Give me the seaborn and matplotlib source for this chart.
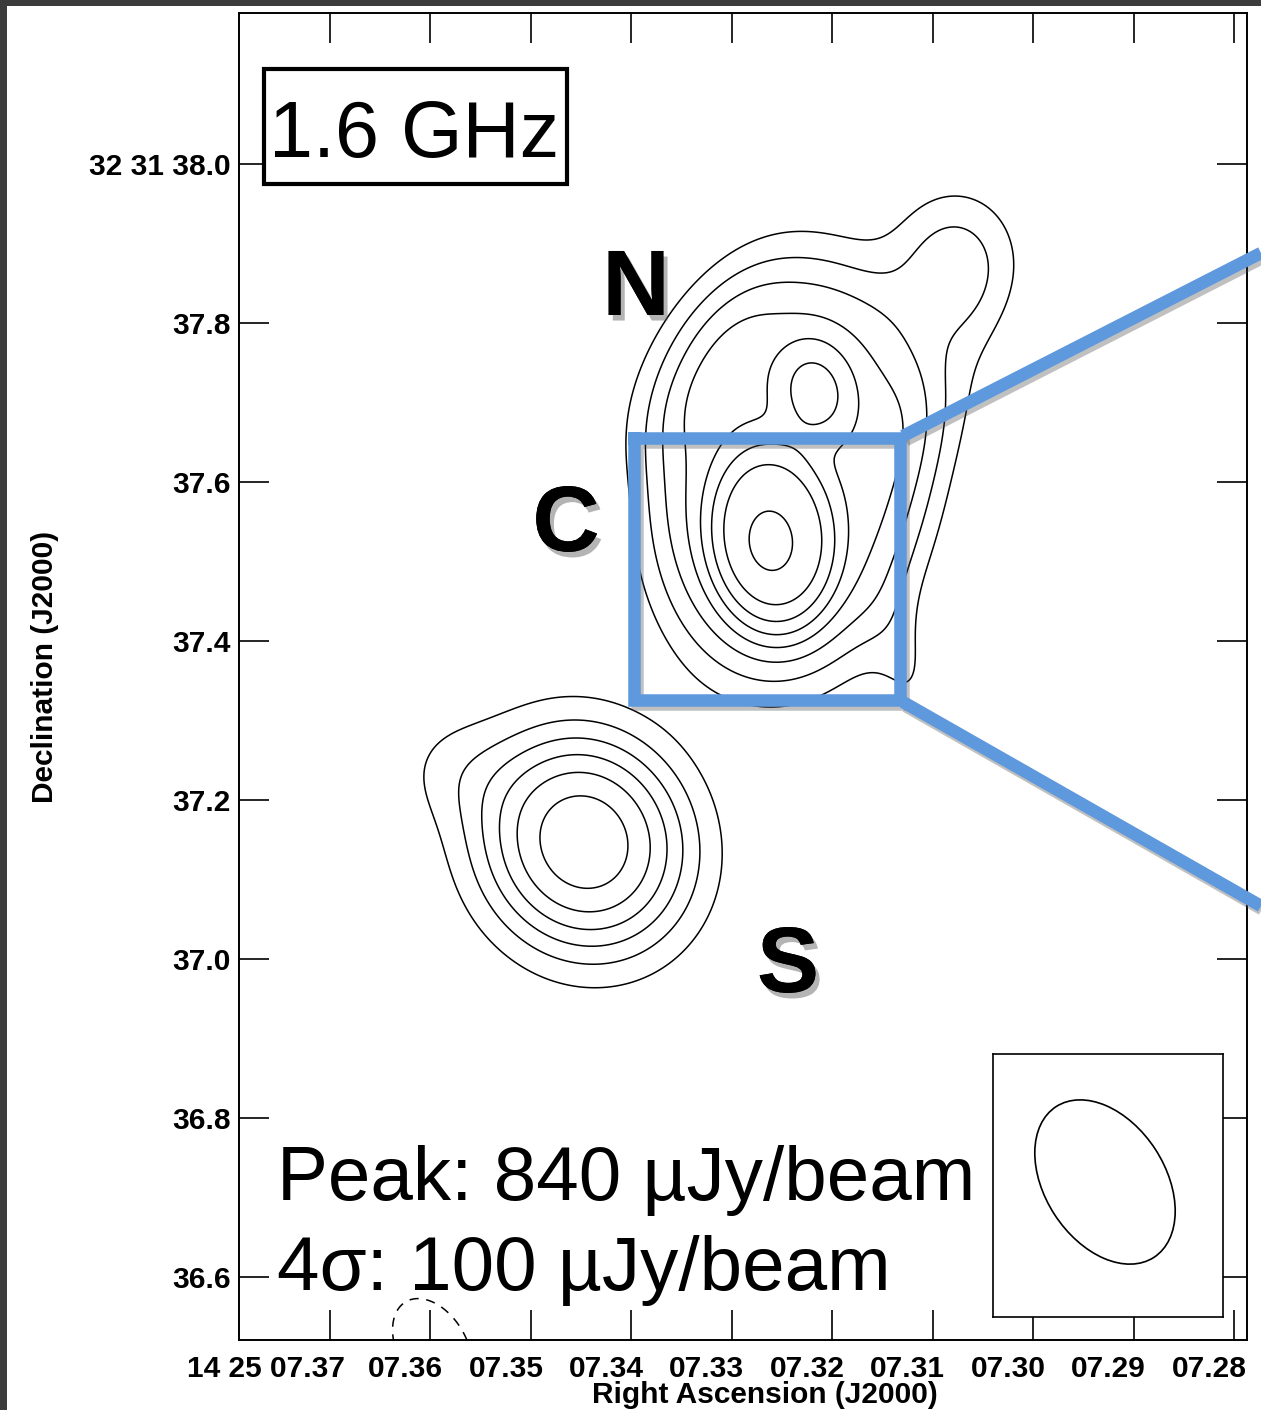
import numpy as np
import matplotlib
matplotlib.use("Agg")
import matplotlib.pyplot as plt
import seaborn as sns
from matplotlib.patches import Ellipse, Rectangle
from matplotlib.lines import Line2D
import matplotlib.patheffects as pe
from matplotlib.transforms import ScaledTranslation

# ---------------- data ----------------
# emission components: RA seconds (14h25m), Dec arcsec (+32d31m), peak uJy/beam,
# width major / minor (arcsec), position angle (deg, east of north), profile exponent
comp_ra = [7.3242, 7.3260, 7.3263, 7.3217, 7.3342, 7.3081, 7.3088, 7.3128,
           7.3447, 7.3581, 7.3598]
comp_dec = [37.615, 37.527, 37.518, 37.716, 37.753, 37.874, 37.728, 37.370,
            37.147, 37.240, 36.511]
comp_peak = [470, 330, 40, 165, 90, 250, 100, 100, 660, 90, -170]
comp_maj = [0.239, 0.103, 0.020, 0.053, 0.113, 0.065, 0.088, 0.063,
            0.112, 0.050, 0.065]
comp_min = [0.157, 0.069, 0.015, 0.040, 0.050, 0.057, 0.044, 0.031,
            0.102, 0.050, 0.042]
comp_pa = [-8, 5, 10, 10, -35, -10, -15, 10, 28, 0, 30]
comp_exp = [5.0, 4.0, 2.0, 3.0, 2.5, 2.2, 2.2, 2.0, 2.6, 2.0, 2.0]

neg_levels = [-100]
pos_levels = [100, 200, 300, 400, 500, 600, 700, 800]

ra_ticks = [7.37, 7.36, 7.35, 7.34, 7.33, 7.32, 7.31, 7.30, 7.29, 7.28]
ra_labels = ["14 25 07.37", "07.36", "07.35", "07.34", "07.33", "07.32",
             "07.31", "07.30", "07.29", "07.28"]
dec_ticks = [38.0, 37.8, 37.6, 37.4, 37.2, 37.0, 36.8, 36.6]
dec_labels = ["32 31 38.0", "37.8", "37.6", "37.4", "37.2", "37.0", "36.8", "36.6"]

beam_maj, beam_min, beam_pa = 0.226, 0.151, 33
freq_label = "1.6 GHz"
peak_text = "Peak: 840 µJy/beam"
sigma_text = "4σ: 100 µJy/beam"
comp_names = ["N", "C", "S"]

# ---------------- style ----------------
sns.set_theme(style="ticks")
plt.rcParams['font.family'] = ['Liberation Sans', 'DejaVu Sans']
plt.rcParams['text.color'] = 'black'
plt.rcParams['axes.labelcolor'] = 'black'
plt.rcParams['xtick.color'] = 'black'
plt.rcParams['ytick.color'] = 'black'

W, H = 1261, 1410
fig = plt.figure(figsize=(W / 100, H / 100), dpi=100)
fig.patch.set_facecolor("white")

def fx(px):
    return px / W

def fy(py):
    return 1 - py / H

# dark screenshot border (left / top)
fig.add_artist(Rectangle((0, 0), fx(7), 1, transform=fig.transFigure,
                         facecolor="#3c3c3c", edgecolor="none", zorder=0))
fig.add_artist(Rectangle((0, fy(6)), 1, 6 / H, transform=fig.transFigure,
                         facecolor="#3c3c3c", edgecolor="none", zorder=0))

ax = fig.add_axes([fx(239), fy(1340), fx(1247) - fx(239), fy(13) - fy(1340)])
ax.set_facecolor("white")

# ---------------- field ----------------
ra = np.linspace(7.2780, 7.3800, 700)
dec = np.linspace(36.50, 38.20, 1000)
RA, DEC = np.meshgrid(ra, dec)
cosd = np.cos(np.radians(32.527))
field = np.zeros_like(RA)
for r, d, p, mj, mn, pa, ex in zip(comp_ra, comp_dec, comp_peak, comp_maj,
                                   comp_min, comp_pa, comp_exp):
    dx = -(RA - r) * 15 * cosd
    dy = DEC - d
    t = np.radians(pa)
    v = -dx * np.sin(t) + dy * np.cos(t)
    u = dx * np.cos(t) + dy * np.sin(t)
    q = (u / mn) ** 2 + (v / mj) ** 2
    field += p * np.exp(-0.5 * q ** (ex / 2.0))

ax.contour(RA, DEC, field, levels=pos_levels, colors="black", linewidths=1.1,
           linestyles="solid")
ax.contour(RA, DEC, field, levels=neg_levels, colors="black", linewidths=1.1,
           linestyles=[(0, (6, 5))])

ax.set_xlim(7.379064, 7.278705)
ax.set_ylim(36.5208, 38.1899)

# ---------------- ticks ----------------
ax.set_xticks(ra_ticks)
ax.set_xticklabels(ra_labels)
ax.set_yticks(dec_ticks)
ax.set_yticklabels(dec_labels)
ax.tick_params(direction="in", length=21.5, width=1.2, top=True, right=True,
               labelsize=21.5, colors="black")
ax.tick_params(axis="x", pad=11)
ax.tick_params(axis="y", pad=6)
for lbl in ax.get_xticklabels() + ax.get_yticklabels():
    lbl.set_fontweight("bold")
for i, lbl in enumerate(ax.get_xticklabels()):
    if i == 0:
        lbl.set_horizontalalignment("right")
        lbl.set_transform(lbl.get_transform() + ScaledTranslation(0.15, 0, fig.dpi_scale_trans))
    else:
        lbl.set_transform(lbl.get_transform() + ScaledTranslation(-0.25, 0, fig.dpi_scale_trans))
for s in ax.spines.values():
    s.set_linewidth(1.4)
    s.set_color("black")

fig.text(fx(765), fy(1395), "Right Ascension (J2000)", ha="center", va="center",
         fontsize=21.5, fontweight="bold")
fig.text(fx(45), fy(667), "Declination (J2000)", ha="center", va="center",
         rotation=90, fontsize=21.5, fontweight="bold")

# ---------------- frequency box ----------------
fig.add_artist(Rectangle((fx(264), fy(184)), fx(567) - fx(264), fy(69) - fy(184),
                         transform=fig.transFigure, facecolor="white",
                         edgecolor="black", linewidth=3.0, zorder=5))
fig.text(fx(414), fy(157), freq_label, ha="center", va="baseline", fontsize=57, zorder=6)

# ---------------- component names with shadow ----------------
shadow = [pe.withSimplePatchShadow(offset=(3, -4), shadow_rgbFace="0.35", alpha=0.45),
          pe.Normal()]
name_pos = [(636, 315), (566, 551), (788, 992)]
for name, (px, py) in zip(comp_names, name_pos):
    fig.text(fx(px), fy(py), name, ha="center", va="baseline", fontsize=67,
             fontweight="bold", path_effects=shadow, zorder=6)

# ---------------- peak / sigma text ----------------
fig.text(fx(277), fy(1200), peak_text, ha="left", va="baseline", fontsize=55, zorder=6)
fig.text(fx(277), fy(1290), sigma_text, ha="left", va="baseline", fontsize=55, zorder=6)

# ---------------- zoom box ----------------
blue = "#5e98dd"
lshadow = [pe.SimpleLineShadow(offset=(2, -3), shadow_color="0.3", alpha=0.35), pe.Normal()]
bx = [fx(634), fx(900), fx(900), fx(634), fx(634)]
by = [fy(438), fy(438), fy(700), fy(700), fy(438)]
fig.add_artist(Line2D(bx, by, transform=fig.transFigure, color=blue, linewidth=9,
                      zorder=7, solid_joinstyle="miter", solid_capstyle="projecting",
                      path_effects=lshadow))
fig.add_artist(Line2D([fx(903), fx(1261)], [fy(436), fy(253)], transform=fig.transFigure,
                      color=blue, linewidth=9, zorder=7, solid_capstyle="butt",
                      path_effects=lshadow))
fig.add_artist(Line2D([fx(903), fx(1261)], [fy(702), fy(906)], transform=fig.transFigure,
                      color=blue, linewidth=9, zorder=7, solid_capstyle="butt",
                      path_effects=lshadow))

# ---------------- beam inset ----------------
bax = fig.add_axes([fx(993), fy(1317), fx(1223) - fx(993), fy(1054) - fy(1317)])
bw = 230 / 795.0
bh = 263 / 795.0
cx = 112 / 795.0
cy = 135 / 795.0
bax.set_xlim(-cx, bw - cx)
bax.set_ylim(-cy, bh - cy)
bax.set_xticks([])
bax.set_yticks([])
bax.set_facecolor("white")
for s in bax.spines.values():
    s.set_linewidth(1.2)
    s.set_color("black")
bax.add_patch(Ellipse((0, 0), width=beam_min, height=beam_maj, angle=beam_pa,
                      facecolor="none", edgecolor="black", linewidth=1.2))

fig.savefig("out.png", dpi=100)
